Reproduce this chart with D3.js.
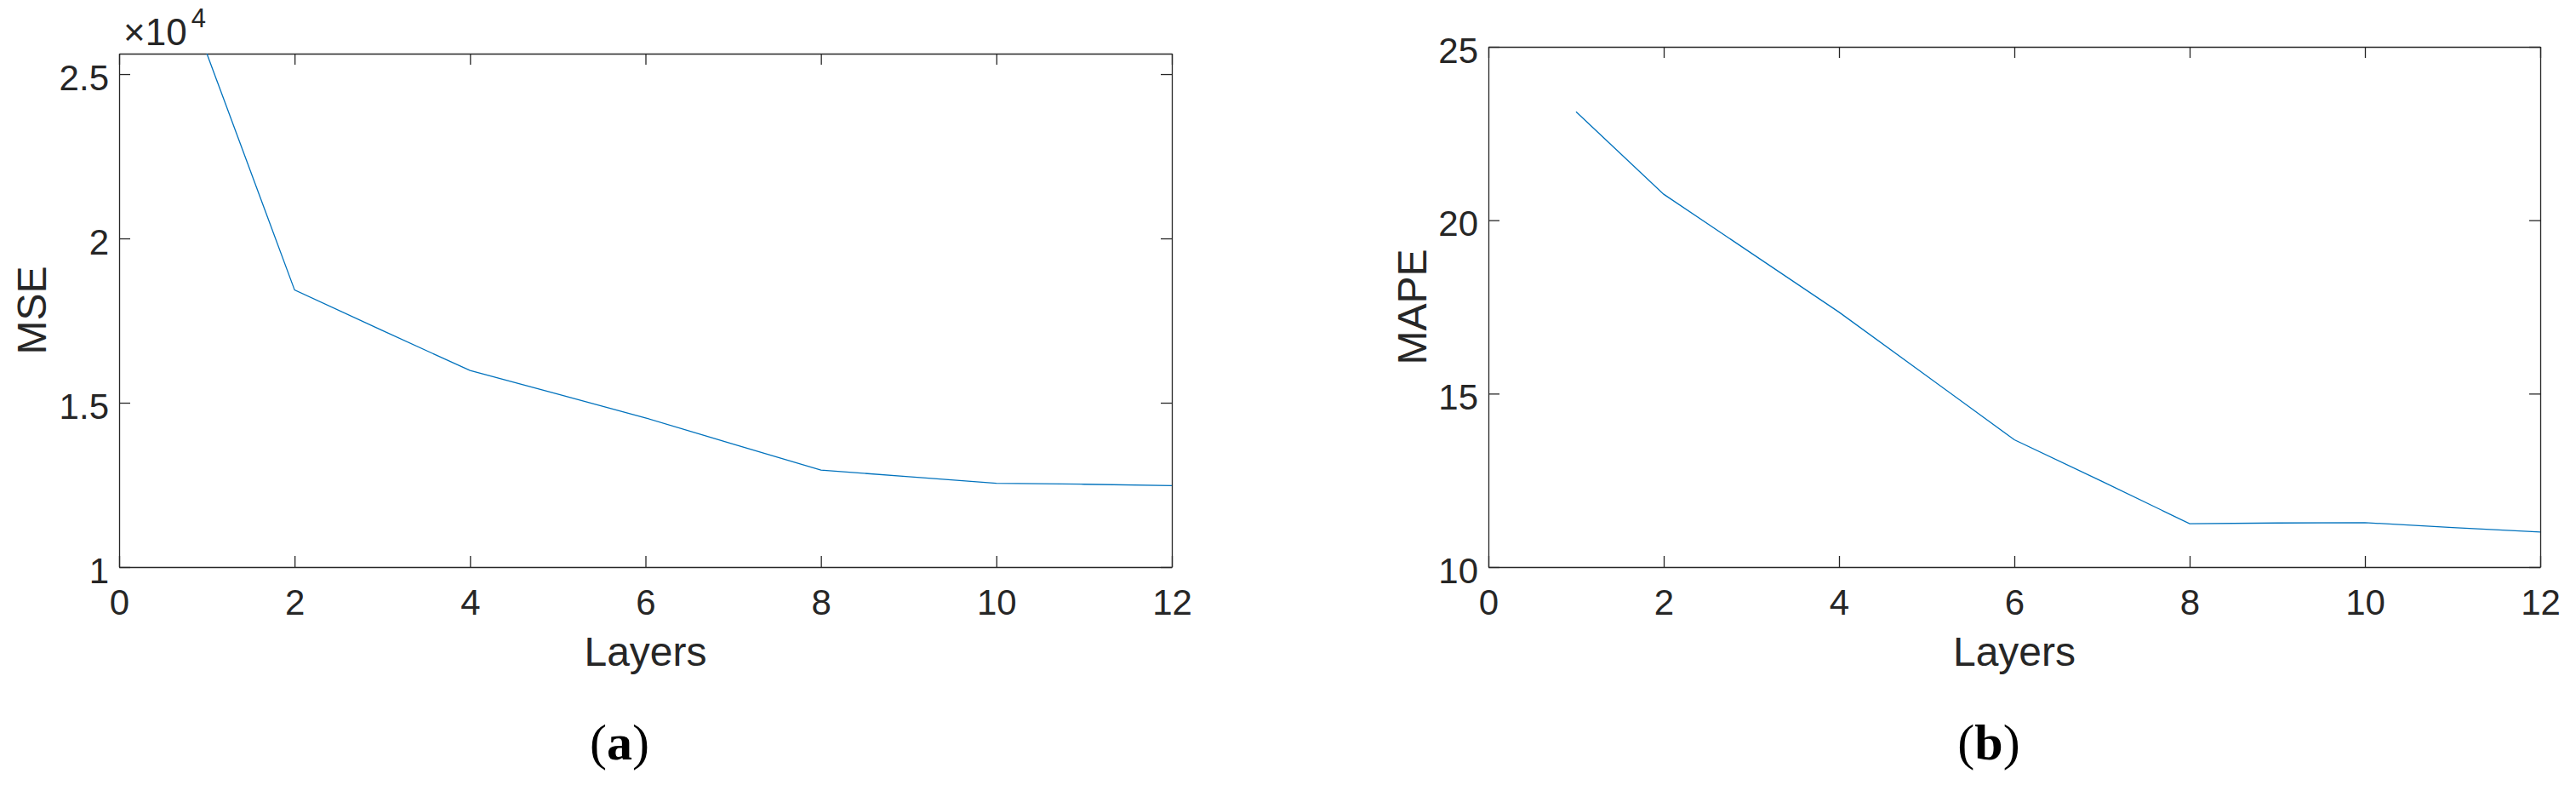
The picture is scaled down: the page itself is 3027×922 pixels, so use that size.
<!DOCTYPE html>
<html>
<head>
<meta charset="utf-8">
<script src="https://cdnjs.cloudflare.com/ajax/libs/d3/7.8.5/d3.min.js"></script>
<style>
  body { margin: 0; background: #fff; }
  svg text { font-family: "Liberation Sans", Arial, sans-serif; fill: #262626; }
</style>
</head>
<body>
<div id="container"></div>
<script>
//data
var layers = [1, 2, 3, 4, 5, 6, 7, 8, 9, 10, 11, 12];
var mse = [25623, 18430, 17200, 15980, 15260, 14540, 13740, 12950, 12750, 12550, 12520, 12480];
var mape = [23.13, 20.75, 19.05, 17.35, 15.51, 13.67, 12.47, 11.25, 11.27, 11.28, 11.14, 11.01];

var xTicks = [0, 2, 4, 6, 8, 10, 12];
var mseTicks = [10000, 15000, 20000, 25000];
var mseTickLabels = ["1", "1.5", "2", "2.5"];
var mapeTicks = [10, 15, 20, 25];

var W = 3027, H = 922;
var axisColor = "#262626";
var lineColor = "#0072BD";

var svg = d3.select("#container")
  .append("svg")
  .attr("width", W)
  .attr("height", H);

//draws one MATLAB-like panel
function drawPanel(opt) {
  var x = d3.scaleLinear().domain([0, 12]).range([opt.left, opt.right]);
  var y = d3.scaleLinear().domain(opt.yDomain).range([opt.bottom, opt.top]);

  var g = svg.append("g");

  g.append("clipPath")
    .attr("id", opt.id + "-clip")
    .append("rect")
    .attr("x", opt.left).attr("y", opt.top)
    .attr("width", opt.right - opt.left)
    .attr("height", opt.bottom - opt.top);

  //bottom axis
  var xb = g.append("g")
    .attr("transform", "translate(0," + opt.bottom + ")")
    .call(d3.axisBottom(x).tickValues(xTicks).tickSizeInner(-13).tickSizeOuter(0).tickPadding(26));
  //top axis (ticks only)
  var xt = g.append("g")
    .attr("transform", "translate(0," + opt.top + ")")
    .call(d3.axisTop(x).tickValues(xTicks).tickSizeInner(-13).tickSizeOuter(0).tickFormat(""));
  //left axis
  var yl = g.append("g")
    .attr("transform", "translate(" + opt.left + ",0)")
    .call(d3.axisLeft(y).tickValues(opt.yTicks).tickSizeInner(-13).tickSizeOuter(0).tickPadding(12)
      .tickFormat(function(d, i) { return opt.yLabels[i]; }));
  //right axis (ticks only)
  var yr = g.append("g")
    .attr("transform", "translate(" + opt.right + ",0)")
    .call(d3.axisRight(y).tickValues(opt.yTicks).tickSizeInner(-13).tickSizeOuter(0).tickFormat(""));

  [xb, xt, yl, yr].forEach(function(a) {
    a.selectAll("path.domain").attr("stroke", axisColor).attr("stroke-width", 1.3);
    a.selectAll(".tick line").attr("stroke", axisColor).attr("stroke-width", 1.3);
    a.selectAll(".tick text")
      .attr("fill", axisColor)
      .style("font-family", "'Liberation Sans', Arial, sans-serif")
      .style("font-size", "42px");
  });
  yl.selectAll(".tick text").attr("dy", "0.43em");

  //data line
  var line = d3.line()
    .x(function(d, i) { return x(layers[i]); })
    .y(function(d) { return y(d); });

  g.append("path")
    .datum(opt.values)
    .attr("clip-path", "url(#" + opt.id + "-clip)")
    .attr("fill", "none")
    .attr("stroke", lineColor)
    .attr("stroke-width", 1.3)
    .attr("d", line);

  //x label
  g.append("text")
    .attr("x", (opt.left + opt.right) / 2)
    .attr("y", opt.bottom + 116)
    .attr("text-anchor", "middle")
    .style("font-size", "48px")
    .text("Layers");

  //y label
  g.append("text")
    .attr("transform", "translate(" + opt.yLabelX + "," + ((opt.top + opt.bottom) / 2) + ") rotate(-90)")
    .attr("text-anchor", "middle")
    .style("font-size", "48px")
    .text(opt.yLabel);

  //panel letter
  g.append("text")
    .attr("x", opt.letterX)
    .attr("y", 892)
    .attr("text-anchor", "middle")
    .style("font-family", "'Liberation Serif', 'Times New Roman', serif")
    .style("font-size", "60px")
    .style("fill", "#000")
    .html("(<tspan font-weight='bold'>" + opt.letter + "</tspan>)");

  return {x: x, y: y, g: g};
}

var a = drawPanel({
  id: "pa", left: 140, right: 1377, top: 63, bottom: 666,
  yDomain: [10000, mse[0]], yTicks: mseTicks, yLabels: mseTickLabels,
  values: mse, yLabel: "MSE", yLabelX: 54, letter: "a", letterX: 728
});

//exponent label
var expo = a.g.append("text")
  .attr("x", 145)
  .attr("y", 53)
  .style("font-size", "44px");
expo.append("tspan").text("\u00d710");
expo.append("tspan").attr("dx", 5).attr("dy", -21).style("font-size", "31px").text("4");

drawPanel({
  id: "pb", left: 1749, right: 2985, top: 55, bottom: 666,
  yDomain: [10, 25], yTicks: mapeTicks, yLabels: mapeTicks.map(String),
  values: mape, yLabel: "MAPE", yLabelX: 1676, letter: "b", letterX: 2337
});
</script>
</body>
</html>
